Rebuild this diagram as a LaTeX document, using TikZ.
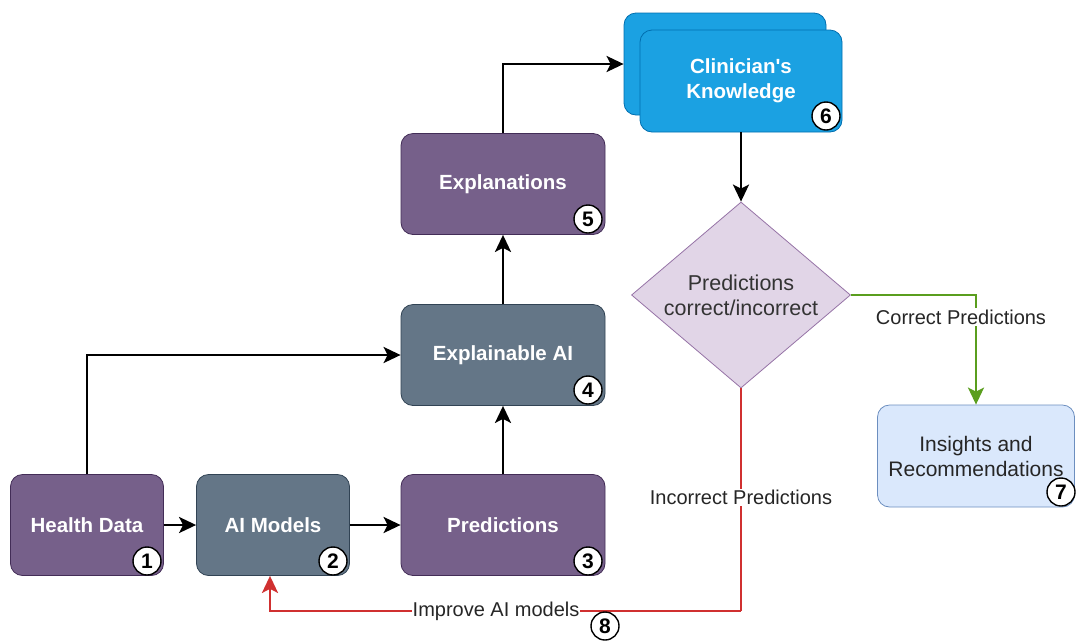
\documentclass[tikz,border=0pt]{standalone}
\usepackage{fontspec}
\setmainfont{Liberation Sans}
\usetikzlibrary{arrows.meta,shapes.geometric}

\definecolor{procpurple}{HTML}{76608A}
\definecolor{procpurpleline}{HTML}{432D57}
\definecolor{procslate}{HTML}{647687}
\definecolor{procslateline}{HTML}{314354}
\definecolor{knowblue}{HTML}{1BA1E2}
\definecolor{knowblueline}{HTML}{006EAF}
\definecolor{decidefill}{HTML}{E1D5E7}
\definecolor{decideline}{HTML}{9673A6}
\definecolor{insightfill}{HTML}{DAE8FC}
\definecolor{insightline}{HTML}{6C8EBF}
\definecolor{okgreen}{HTML}{5A9E1E}
\definecolor{badred}{HTML}{D03030}

\begin{document}
\begin{tikzpicture}[x=1pt, y=-1pt,
		box/.style={rounded corners=12pt, minimum width=153pt, minimum height=101pt, align=center, text=white, line width=0.8pt, font=\fontsize{20.5}{25}\selectfont\bfseries},
		purplebox/.style={box, fill=procpurple, draw=procpurpleline},
		slatebox/.style={box, fill=procslate, draw=procslateline},
		bluebox/.style={box, fill=knowblue, draw=knowblueline, minimum width=202pt, minimum height=102pt},
		badge/.style={circle, draw=black, fill=white, line width=1.4pt, minimum size=28pt, inner sep=0pt, font=\fontsize{21}{21}\selectfont\bfseries},
		flow/.style={line width=2.5pt, -{Stealth[length=17pt,width=16pt,inset=4pt]}},
		elabel/.style={fill=white, inner sep=1.5pt, text=black!85, font=\fontsize{20}{24}\selectfont}]
	\useasboundingbox (0,0) rectangle (1077,641);
	
	% Bottom row
	\node[purplebox] (health) at (87,525) {Health Data};
	\node[slatebox] (models) at (273,525) {AI Models};
	\node[purplebox, minimum width=204pt] (preds) at (503,525) {Predictions};
	
	% Middle column
	\node[slatebox, minimum width=204pt] (xai) at (503,355) {Explainable AI};
	\node[purplebox, minimum width=204pt] (expl) at (503,184) {Explanations};
	
	% Clinician's knowledge (two stacked cards)
	\node[bluebox] (knowback) at (725,64) {};
	\node[bluebox] (know) at (741,81) {Clinician\textquotesingle s\\Knowledge};
	
	% Decision and outcome
	\node[diamond, aspect=1.18, draw=decideline, fill=decidefill, line width=0.8pt, minimum width=219pt, minimum height=186pt, inner sep=0pt, align=center, text=black!80, font=\fontsize{21.5}{25}\selectfont] (decide) at (741,295) {Predictions\\correct/incorrect};
	\node[box, fill=insightfill, draw=insightline, minimum width=197pt, minimum height=102pt, text=black!85, font=\fontsize{21}{25}\selectfont] (insight) at (976,456) {Insights and\\Recommendations};
	
	% Step numbers
	\node[badge] (b1) at (147,561) {1};
	\node[badge] (b2) at (333,561) {2};
	\node[badge] (b3) at (588,561) {3};
	\node[badge] (b4) at (588,390) {4};
	\node[badge] (b5) at (588,219) {5};
	\node[badge] (b6) at (826,116) {6};
	\node[badge] (b7) at (1061,492) {7};
	
	% Main flow
	\draw[flow] (health) -- (models);
	\draw[flow] (models) -- (preds);
	\draw[flow] (preds) -- (xai);
	\draw[flow] (xai) -- (expl);
	\draw[flow] (health.north) |- (xai.west);
	\draw[flow] (expl.north) |- (knowback.west);
	\draw[flow] (know.south) -- (decide.north);
	
	% Correct / incorrect branches
	\draw[flow, okgreen] (decide.east) -| node[elabel, pos=0.6, xshift=-15pt] (okl) {Correct Predictions} (insight.north);
	\coordinate (redturn) at (741,611);
	\coordinate (redend) at (270,611);
	\draw[line width=2.5pt, badred] (decide.south) -- node[elabel, pos=0.49] (badl) {Incorrect Predictions} (redturn);
	\draw[flow, badred] (redturn) -- node[elabel, pos=0.52, inner xsep=0.5pt] (impl) {Improve AI models} (redend) -- (redend |- models.south);
	\node[badge] (b8) at (605,626) {8};
\end{tikzpicture}
\end{document}
